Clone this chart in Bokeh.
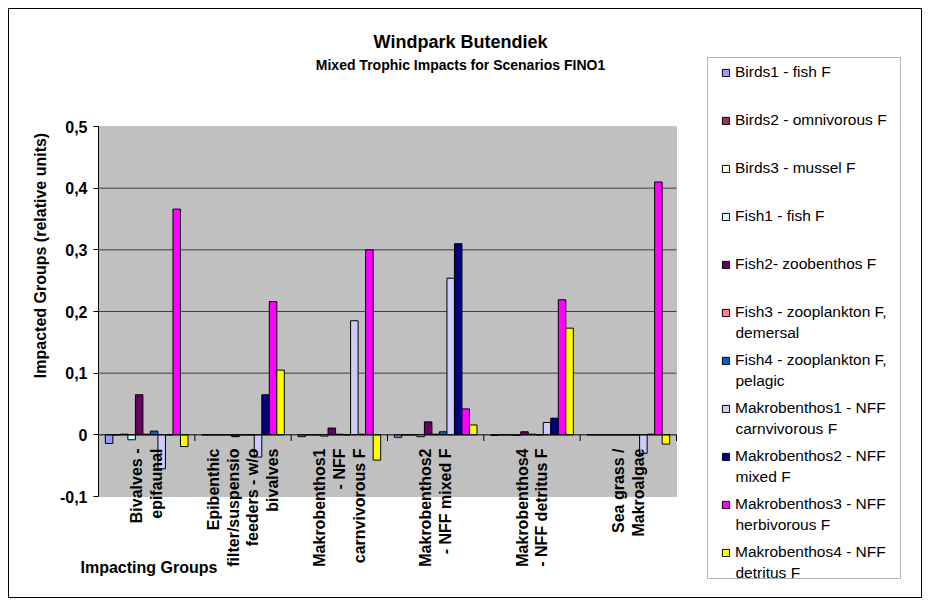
import math
from bokeh.plotting import figure
from bokeh.models import (Range1d, FixedTicker, CustomJSTickFormatter, Label,
                          Legend, LegendItem, BoxAnnotation)
from bokeh.embed import file_html
from bokeh.resources import INLINE

# ---------------- data ----------------
groups = [
    "Bivalves -\nepifaunal",
    "Epibenthic\nfilter/suspensio\nfeeders - w/o\nbivalves",
    "Makrobenthos1\n- NFF\ncarnvivorous F",
    "Makrobenthos2\n- NFF mixed F",
    "Makrobenthos4\n- NFF detritus F",
    "Sea grass /\nMakroalgae",
]

series_names = [
    "Birds1 - fish F",
    "Birds2 - omnivorous F",
    "Birds3 - mussel F",
    "Fish1 - fish F",
    "Fish2- zoobenthos F",
    "Fish3 - zooplankton F,\ndemersal",
    "Fish4 - zooplankton F,\npelagic",
    "Makrobenthos1 - NFF\ncarnvivorous F",
    "Makrobenthos2 - NFF\nmixed F",
    "Makrobenthos3 - NFF\nherbivorous F",
    "Makrobenthos4 - NFF\ndetritus F",
]

colors = ["#9999FF", "#993366", "#FFFFCC", "#CCFFFF", "#660066", "#FF8080",
          "#0066CC", "#CCCCFF", "#000080", "#FF00FF", "#FFFF00"]

birds1 = [-0.014, 0.0, -0.003, -0.004, -0.001, 0.0]
birds2 = [0.0, 0.0, 0.0, 0.0, 0.0, 0.0]
birds3 = [0.001, 0.0, 0.0, 0.0, 0.0, 0.0]
fish1 = [-0.008, 0.0, -0.002, -0.003, -0.001, 0.0]
fish2 = [0.065, -0.003, 0.011, 0.021, 0.005, 0.0]
fish3 = [0.001, 0.0, 0.001, 0.001, 0.001, 0.0]
fish4 = [0.006, 0.0, 0.0, 0.005, 0.0, 0.0]
makro1 = [-0.055, -0.036, 0.185, 0.254, 0.020, -0.030]
makro2 = [0.0, 0.065, 0.001, 0.310, 0.027, 0.001]
makro3 = [0.366, 0.216, 0.300, 0.042, 0.219, 0.410]
makro4 = [-0.019, 0.105, -0.041, 0.016, 0.173, -0.015]

series_values = [birds1, birds2, birds3, fish1, fish2, fish3, fish4,
                 makro1, makro2, makro3, makro4]

y_ticks = [-0.1, 0.0, 0.1, 0.2, 0.3, 0.4, 0.5]
grid_ticks = [0.1, 0.2, 0.3, 0.4]
y_min, y_max = -0.1, 0.5

# ---------------- layout (picture pixels) ----------------
FONT = "Liberation Sans"
W, H = 929, 604
FL, FT = 8, 8                 # outer chart border left / top
FR, FB = 921, 597             # outer chart border right / bottom
FW, FH = FR - FL, FB - FT
PLOT_L, PLOT_R, PLOT_T, PLOT_B = 98, 676, 126, 496
n_g = len(groups)
PXX = (PLOT_R - PLOT_L) / n_g
PXY = (PLOT_B - PLOT_T) / (y_max - y_min)
x_start = -(PLOT_L - FL) / PXX
x_end = x_start + FW / PXX
y_end = y_max + (PLOT_T - FT) / PXY
y_start = y_end - FH / PXY

def dx(px):
    return x_start + (px - FL) / PXX

def dy(py):
    return y_end - (py - FT) / PXY

p = figure(width=W, height=H, output_backend="svg", toolbar_location=None,
           x_range=Range1d(x_start, x_end), y_range=Range1d(y_start, y_end),
           x_axis_type=None,
           min_border_left=FL, min_border_right=W - FR,
           min_border_top=FT, min_border_bottom=H - FB)
p.background_fill_color = "white"
p.border_fill_color = "white"
p.outline_line_color = "black"
p.outline_line_width = 1
p.ygrid.visible = False

# plot area
p.add_layout(BoxAnnotation(left=0, right=n_g, bottom=y_min, top=y_max,
                           fill_color="#C0C0C0", fill_alpha=1,
                           line_color="#808080", line_width=1, level="underlay"))
# legend box
p.add_layout(BoxAnnotation(left=dx(707), right=dx(900), bottom=dy(578), top=dy(57),
                           fill_color="white", fill_alpha=1,
                           line_color="black", line_width=1, level="underlay"))

yax = p.yaxis[0]
yax.fixed_location = 0
yax.bounds = (y_min, y_max)
yax.ticker = FixedTicker(ticks=y_ticks)
yax.formatter = CustomJSTickFormatter(code="""
    if (Math.abs(tick) < 1e-9) { return '0'; }
    return tick.toFixed(1).replace('.', ',');
""")
yax.major_label_text_font = FONT
yax.major_label_text_font_style = "bold"
yax.major_label_text_font_size = "16px"
yax.major_label_text_color = "black"
yax.axis_line_color = "black"
yax.major_tick_line_color = "black"
yax.major_tick_out = 5
yax.major_tick_in = 0
yax.minor_tick_line_color = None
yax.major_label_standoff = 6

# grid lines inside the plot area
p.segment(x0=[0] * len(grid_ticks), y0=grid_ticks, x1=[n_g] * len(grid_ticks),
          y1=grid_ticks, line_color="#404040", line_width=1)

# ---------------- bars ----------------
n_s = len(series_names)
bar_w = 0.078
gap = (1 - n_s * bar_w) / 2
renderers = []
for k, (vals, col) in enumerate(zip(series_values, colors)):
    xs = [g + gap + (k + 0.5) * bar_w for g in range(n_g)]
    r = p.vbar(x=xs, top=vals, bottom=0, width=bar_w, fill_color=col,
               line_color="black", line_width=1)
    renderers.append(r)

# category axis line at zero and its ticks
p.segment(x0=[0], y0=[0], x1=[n_g], y1=[0], line_color="black", line_width=1)
bounds = list(range(1, n_g + 1))
p.segment(x0=bounds, y0=[0] * len(bounds), x1=bounds, y1=[-0.01] * len(bounds),
          line_color="black", line_width=1)

# ---------------- texts ----------------
def lab(**kw):
    base = dict(text_font=FONT, text_font_style="bold", text_color="black")
    base.update(kw)
    p.add_layout(Label(**base))

lab(x=dx(460), y=dy(41), text="Windpark Butendiek", text_align="center",
    text_baseline="middle", text_font_size="18px")
lab(x=dx(460), y=dy(64), text="Mixed Trophic Impacts for Scenarios FINO1",
    text_align="center", text_baseline="middle", text_font_size="14px")
lab(x=dx(40), y=dy(255), text="Impacted Groups (relative units)", angle=math.pi / 2,
    text_align="center", text_baseline="middle", text_font_size="16px")
lab(x=dx(80), y=dy(567), text="Impacting Groups", text_align="left",
    text_baseline="middle", text_font_size="16px")

for i, g in enumerate(groups):
    lab(x=i + 0.5, y=dy(448), text=g, angle=math.pi / 2, text_align="right",
        text_baseline="middle", text_font_size="16px", text_line_height=1.17)

# ---------------- legend ----------------
LEG_X, LEG_Y0, LEG_PITCH, LEG_ITEM_H, LEG_LINE = 721, 72, 48, 20, 19.5
first_lines = [n.split("\n")[0] for n in series_names]
items = [LegendItem(label=lbl, renderers=[r]) for lbl, r in zip(first_lines, renderers)]
leg_top = LEG_Y0 - LEG_ITEM_H / 2
leg_h = n_s * LEG_ITEM_H + (n_s - 1) * (LEG_PITCH - LEG_ITEM_H)
legend = Legend(items=items, location=(LEG_X - FL, int(round(FB - (leg_top + leg_h)))))
legend.border_line_color = None
legend.background_fill_alpha = 0
legend.label_text_font = FONT
legend.label_text_font_size = "15.5px"
legend.label_text_color = "black"
legend.label_height = LEG_ITEM_H
legend.glyph_width = 9
legend.glyph_height = 9
legend.label_standoff = 5
legend.spacing = LEG_PITCH - LEG_ITEM_H
legend.padding = 0
legend.margin = 0
p.add_layout(legend)

# continuation lines of the two-line legend entries
for k, name in enumerate(series_names):
    for j, extra in enumerate(name.split("\n")[1:], start=1):
        p.add_layout(Label(x=dx(LEG_X + 9 + 5), y=dy(LEG_Y0 + k * LEG_PITCH + j * LEG_LINE),
                           text=extra, text_align="left", text_baseline="middle",
                           text_font=FONT, text_font_size="15.5px", text_color="black"))

open("out.html", "w").write(file_html(p, INLINE))
